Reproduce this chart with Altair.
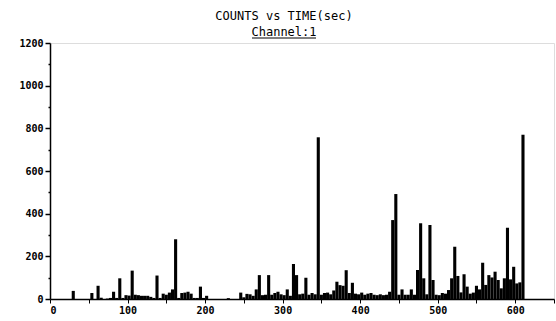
import altair as alt
import pandas as pd

BIN = 4  # seconds per bin
counts = [
    0, 0, 0, 0, 0, 0, 0, 38, 0, 0,          # 0-40
    0, 0, 0, 28, 0, 62, 6, 0, 2, 5,         # 40-80
    34, 5, 97, 5, 18, 16, 133, 20, 18, 15,  # 80-120
    15, 15, 10, 5, 110, 5, 25, 20, 30, 45,  # 120-160
    280, 5, 28, 30, 34, 25, 5, 5, 58, 5,    # 160-200
    15, 0, 0, 0, 0, 0, 0, 4, 0, 0,          # 200-240
    0, 30, 8, 24, 22, 15, 45, 112, 18, 20,  # 240-280
    112, 20, 28, 34, 22, 18, 45, 15, 164, 112,  # 280-320
    22, 25, 100, 20, 28, 22, 758, 20, 28, 30,   # 320-360
    22, 40, 81, 65, 62, 135, 28, 76, 25, 22,    # 360-400
    30, 20, 25, 28, 20, 18, 22, 18, 20, 34,     # 400-440
    370, 492, 20, 45, 20, 20, 45, 20, 136, 355, # 440-480
    97, 22, 347, 89, 20, 18, 28, 25, 42, 97,    # 480-520
    245, 108, 31, 116, 58, 25, 30, 62, 45, 170, # 520-560
    66, 112, 101, 128, 89, 50, 97, 334, 92, 151,  # 560-600
    73, 78, 770,                                # 600-612
]
times = [i * BIN for i in range(len(counts))]

df = pd.DataFrame({"t": times, "count": counts})

FONT = "DejaVu Sans Mono"

x_ticks = list(range(0, 651, 50))
y_ticks = list(range(0, 1201, 100))

bars = alt.Chart(df).mark_bar(color="black", strokeWidth=0).transform_calculate(
    t2=f"datum.t + {BIN}"
).encode(
    x=alt.X("t:Q", scale=alt.Scale(domain=[0, 650], nice=False, zero=True),
            axis=alt.Axis(values=x_ticks, title=None, grid=False,
                          labelExpr="datum.value % 100 == 0 ? datum.label : ''",
                          labelFont=FONT, labelFontWeight="bold", labelFontSize=10,
                          labelColor="black", tickColor="black", tickSize=4,
                          domainColor="black", domainWidth=1.5, labelPadding=2,
                          format="d")),
    x2="t2:Q",
    y=alt.Y("count:Q", scale=alt.Scale(domain=[0, 1200], nice=False),
            axis=alt.Axis(values=y_ticks, title=None, grid=False,
                          labelExpr="datum.value % 200 == 0 ? datum.label : ''",
                          labelFont=FONT, labelFontWeight="bold", labelFontSize=10,
                          labelColor="black", tickColor="black",
                          tickSize={"condition": {"test": "datum.value % 200 == 0", "value": 5}, "value": 2},
                          tickWidth=1.5,
                          domainColor="black", domainWidth=1.5, labelPadding=2,
                          format="d")),
    y2=alt.datum(0),
)

title1 = alt.Chart(pd.DataFrame({"s": ["COUNTS vs TIME(sec)"]})).mark_text(
    font=FONT, fontSize=12, color="black", align="center", baseline="middle"
).encode(text="s:N", x=alt.value(234), y=alt.value(-27))

title2 = alt.Chart(pd.DataFrame({"s": ["Channel:1"]})).mark_text(
    font=FONT, fontSize=12, color="black", align="center", baseline="middle"
).encode(text="s:N", x=alt.value(234), y=alt.value(-11))

underline = alt.Chart(pd.DataFrame({"a": [0]})).mark_rule(color="black", strokeWidth=1).encode(
    x=alt.value(202), x2=alt.value(266), y=alt.value(-5)
)

chart = alt.layer(bars, title1, title2, underline).properties(
    width=504, height=256,
    padding={"left": 50, "top": 43, "right": 2, "bottom": 22},
    autosize=alt.AutoSizeParams(type="none"),
).configure_view(
    stroke="#555555", strokeWidth=1.5
).configure(background="white")

chart.save("out.html", embed_options={"renderer": "svg", "actions": False})
